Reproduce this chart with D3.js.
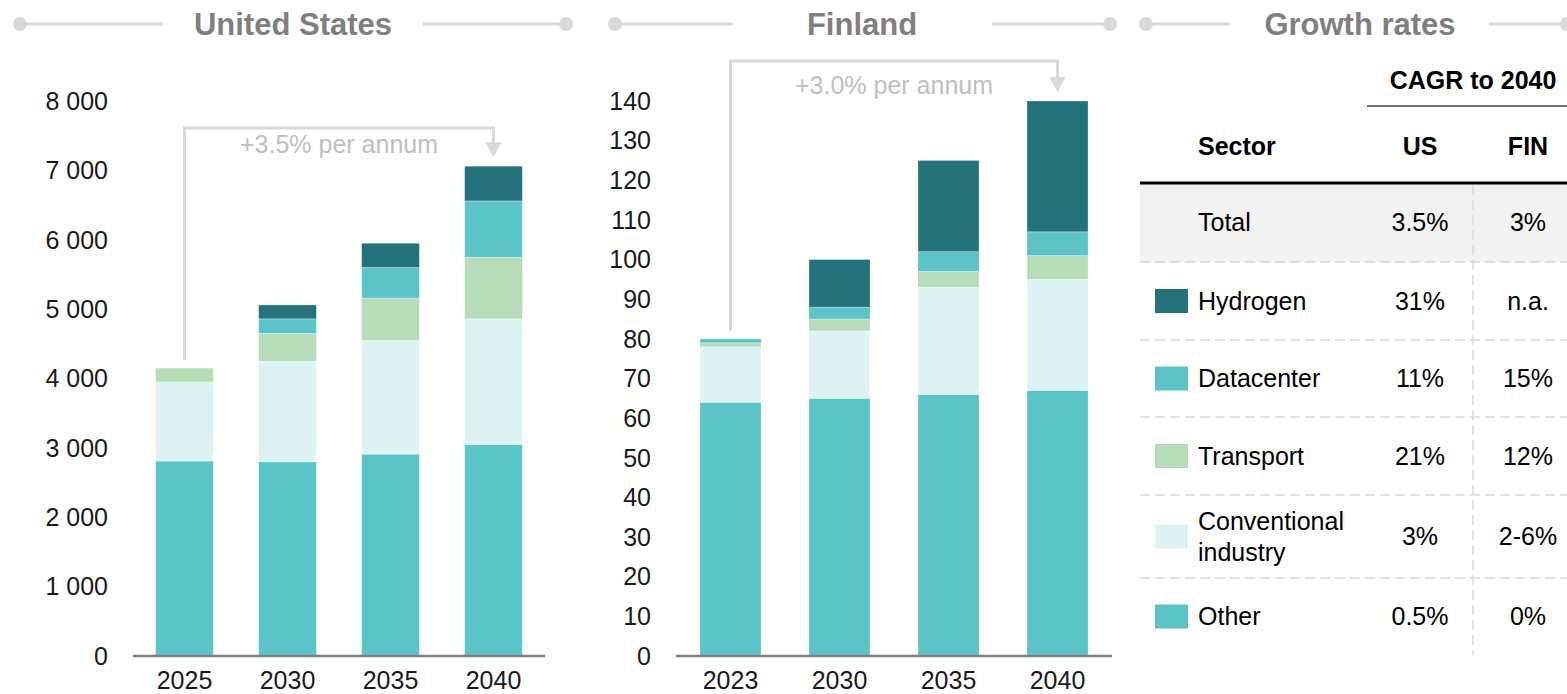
<!DOCTYPE html>
<html>
<head>
<meta charset="utf-8">
<script src="https://cdn.jsdelivr.net/npm/d3@7"></script>
<style>
  body { margin: 0; background: #fff; }
  svg { display: block; font-family: "Liberation Sans", Arial, sans-serif; }
</style>
</head>
<body>
<div id="chart"></div>
<script>
// ---- data ----
var series = ["Other", "Conventional industry", "Transport", "Datacenter", "Hydrogen"];
var seriesColors = ["#5bc4c9", "#def2f4", "#b8dcb7", "#5bc4c9", "#24727c"];

var usYears = ["2025", "2030", "2035", "2040"];
var usOther = [2810, 2800, 2910, 3050];
var usConventional = [1140, 1450, 1640, 1810];
var usTransport = [200, 400, 610, 890];
var usDatacenter = [0, 210, 440, 810];
var usHydrogen = [0, 200, 350, 500];
var usTicks = [0, 1000, 2000, 3000, 4000, 5000, 6000, 7000, 8000];

var finYears = ["2023", "2030", "2035", "2040"];
var finOther = [64, 65, 66, 67];
var finConventional = [14, 17, 27, 28];
var finTransport = [1, 3, 4, 6];
var finDatacenter = [1, 3, 5, 6];
var finHydrogen = [0, 12, 23, 33];
var finTicks = [0, 10, 20, 30, 40, 50, 60, 70, 80, 90, 100, 110, 120, 130, 140];

var tableSectors = ["Hydrogen", "Datacenter", "Transport", "Conventional industry", "Other"];
var tableColors = ["#24727c", "#5bc4c9", "#b8dcb7", "#def2f4", "#5bc4c9"];
var usCagr = ["31%", "11%", "21%", "3%", "0.5%"];
var finCagr = ["n.a.", "15%", "12%", "2-6%", "0%"];
var totalCagr = ["3.5%", "3%"];

var W = 1567, H = 694;
var svg = d3.select("#chart").append("svg")
    .attr("width", W)
    .attr("height", H);

var spaceFmt = d3.formatLocale({decimal: ".", thousands: " ", grouping: [3], currency: ["", ""]}).format(",");

// panel title with line + dots on both sides
function panelTitle(text, cx, x0, x1, gapL, gapR) {
    var g = svg.append("g");
    g.append("line").attr("x1", x0).attr("x2", gapL).attr("y1", 24).attr("y2", 24)
        .attr("stroke", "#d9d9d9").attr("stroke-width", 3);
    g.append("line").attr("x1", gapR).attr("x2", x1).attr("y1", 24).attr("y2", 24)
        .attr("stroke", "#d9d9d9").attr("stroke-width", 3);
    g.selectAll("circle").data([x0, x1]).enter().append("circle")
        .attr("cx", d => d).attr("cy", 24).attr("r", 7).attr("fill", "#d9d9d9");
    g.append("text").attr("x", cx).attr("y", 35)
        .attr("text-anchor", "middle")
        .attr("font-size", "31px").attr("font-weight", "bold")
        .attr("fill", "#7f7f7f").text(text);
}

panelTitle("United States", 293, 20, 566, 163, 423);
panelTitle("Finland", 862, 615, 1110, 733, 992);
panelTitle("Growth rates", 1360, 1146, 1567, 1230, 1489);

// stacked bar panel
function barPanel(cfg) {
    var rows = cfg.years.map((y, i) => {
        var r = {year: y};
        cfg.values.forEach((arr, k) => r[series[k]] = arr[i]);
        return r;
    });
    var stack = d3.stack().keys(series)(rows);

    var x = d3.scaleBand().domain(cfg.years).range(cfg.xRange)
        .paddingInner(0.44).paddingOuter(0.22);
    var y = d3.scaleLinear().domain([0, cfg.max]).range([656, 101]);

    var g = svg.append("g");

    g.selectAll(".layer").data(stack).enter().append("g")
        .attr("fill", (d, i) => seriesColors[i])
        .selectAll("rect").data(d => d).enter().append("rect")
        .attr("x", d => x(d.data.year))
        .attr("width", x.bandwidth())
        .attr("y", d => y(d[1]))
        .attr("height", d => Math.max(0, y(d[0]) - y(d[1])))
        .attr("stroke", "#ffffff").attr("stroke-opacity", 0.35).attr("stroke-width", 0.8);

    // y labels
    g.selectAll(".ylab").data(cfg.ticks).enter().append("text")
        .attr("x", cfg.labelX).attr("y", d => y(d)).attr("dy", "0.35em")
        .attr("text-anchor", "end").attr("font-size", "25px").attr("fill", "#1a1a1a")
        .text(d => cfg.fmt(d));

    // baseline
    g.append("line").attr("x1", cfg.xRange[0]).attr("x2", cfg.xRange[1])
        .attr("y1", y(0)).attr("y2", y(0))
        .attr("stroke", "#7f7f7f").attr("stroke-width", 2.5);

    // x labels
    g.selectAll(".xlab").data(cfg.years).enter().append("text")
        .attr("x", d => x(d) + x.bandwidth() / 2).attr("y", 689)
        .attr("text-anchor", "middle").attr("font-size", "25px").attr("fill", "#1a1a1a")
        .text(d => d);

    // growth bracket
    var totals = rows.map(r => d3.sum(series, k => r[k]));
    var xs = x(cfg.years[0]) + x.bandwidth() / 2;
    var xe = x(cfg.years[cfg.years.length - 1]) + x.bandwidth() / 2;
    var yStart = y(totals[0]) - 8;
    var yEnd = y(totals[totals.length - 1]) - 9;
    var yTop = cfg.bracketY;
    g.append("path")
        .attr("d", `M${xs},${yStart}V${yTop}H${xe}V${yEnd - 13}`)
        .attr("fill", "none").attr("stroke", "#d9d9d9").attr("stroke-width", 3);
    g.append("path")
        .attr("d", `M${xe - 8},${yEnd - 15}L${xe + 8},${yEnd - 15}L${xe},${yEnd}Z`)
        .attr("fill", "#d9d9d9");
    g.append("text").attr("x", (xs + xe) / 2).attr("y", cfg.noteY)
        .attr("text-anchor", "middle").attr("font-size", "25px").attr("fill", "#bfbfbf")
        .text(cfg.note);
}

barPanel({
    years: usYears,
    values: [usOther, usConventional, usTransport, usDatacenter, usHydrogen],
    max: 8000, ticks: usTicks, fmt: spaceFmt,
    xRange: [133, 545], labelX: 108,
    bracketY: 128, noteY: 153, note: "+3.5% per annum"
});

barPanel({
    years: finYears,
    values: [finOther, finConventional, finTransport, finDatacenter, finHydrogen],
    max: 140, ticks: finTicks, fmt: d => d,
    xRange: [676, 1112], labelX: 651,
    bracketY: 61, noteY: 94, note: "+3.0% per annum"
});

// ---- growth table ----
var t = svg.append("g");
var tx0 = 1140, tx1 = 1567, colUS = 1420, colFIN = 1528, colSep = 1473, textX = 1198;
var rowEdges = [183, 262, 340, 417, 495, 578, 655];

t.append("rect").attr("x", tx0).attr("y", rowEdges[0]).attr("width", tx1 - tx0)
    .attr("height", rowEdges[1] - rowEdges[0]).attr("fill", "#f2f2f2");

t.append("text").attr("x", colSep).attr("y", 89).attr("text-anchor", "middle")
    .attr("font-size", "25px").attr("font-weight", "bold").attr("fill", "#000").text("CAGR to 2040");
t.append("line").attr("x1", 1367).attr("x2", tx1).attr("y1", 106).attr("y2", 106)
    .attr("stroke", "#404040").attr("stroke-width", 1.5);

var heads = [["Sector", textX, "start"], ["US", colUS, "middle"], ["FIN", colFIN, "middle"]];
t.selectAll(".head").data(heads).enter().append("text")
    .attr("x", d => d[1]).attr("y", 155).attr("text-anchor", d => d[2])
    .attr("font-size", "25px").attr("font-weight", "bold").attr("fill", "#000")
    .text(d => d[0]);

t.append("line").attr("x1", tx0).attr("x2", tx1).attr("y1", 183).attr("y2", 183)
    .attr("stroke", "#000").attr("stroke-width", 3);

t.selectAll(".hdash").data(rowEdges.slice(1, -1)).enter().append("line")
    .attr("x1", tx0).attr("x2", tx1).attr("y1", d => d).attr("y2", d => d)
    .attr("stroke", "#d9d9d9").attr("stroke-width", 1.5).attr("stroke-dasharray", "10,5");
t.append("line").attr("x1", colSep).attr("x2", colSep).attr("y1", 185).attr("y2", 655)
    .attr("stroke", "#d9d9d9").attr("stroke-width", 1.5).attr("stroke-dasharray", "10,5");

// total row
var totalMid = (rowEdges[0] + rowEdges[1]) / 2;
t.append("text").attr("x", textX).attr("y", totalMid).attr("dy", "0.35em")
    .attr("font-size", "25px").attr("fill", "#000").text("Total");
t.selectAll(".tot").data(totalCagr).enter().append("text")
    .attr("x", (d, i) => i === 0 ? colUS : colFIN).attr("y", totalMid).attr("dy", "0.35em")
    .attr("text-anchor", "middle").attr("font-size", "25px").attr("fill", "#000").text(d => d);

// sector rows
tableSectors.forEach((s, i) => {
    var mid = (rowEdges[i + 1] + rowEdges[i + 2]) / 2;
    t.append("rect").attr("x", 1155).attr("y", mid - 12).attr("width", 33).attr("height", 24)
        .attr("fill", tableColors[i]);
    var words = s === "Conventional industry" ? ["Conventional", "industry"] : [s];
    words.forEach((w, j) => {
        t.append("text").attr("x", textX)
            .attr("y", mid + (j - (words.length - 1) / 2) * 31).attr("dy", "0.35em")
            .attr("font-size", "25px").attr("fill", "#000").text(w);
    });
    t.append("text").attr("x", colUS).attr("y", mid).attr("dy", "0.35em")
        .attr("text-anchor", "middle").attr("font-size", "25px").attr("fill", "#000").text(usCagr[i]);
    t.append("text").attr("x", colFIN).attr("y", mid).attr("dy", "0.35em")
        .attr("text-anchor", "middle").attr("font-size", "25px").attr("fill", "#000").text(finCagr[i]);
});
</script>
</body>
</html>
